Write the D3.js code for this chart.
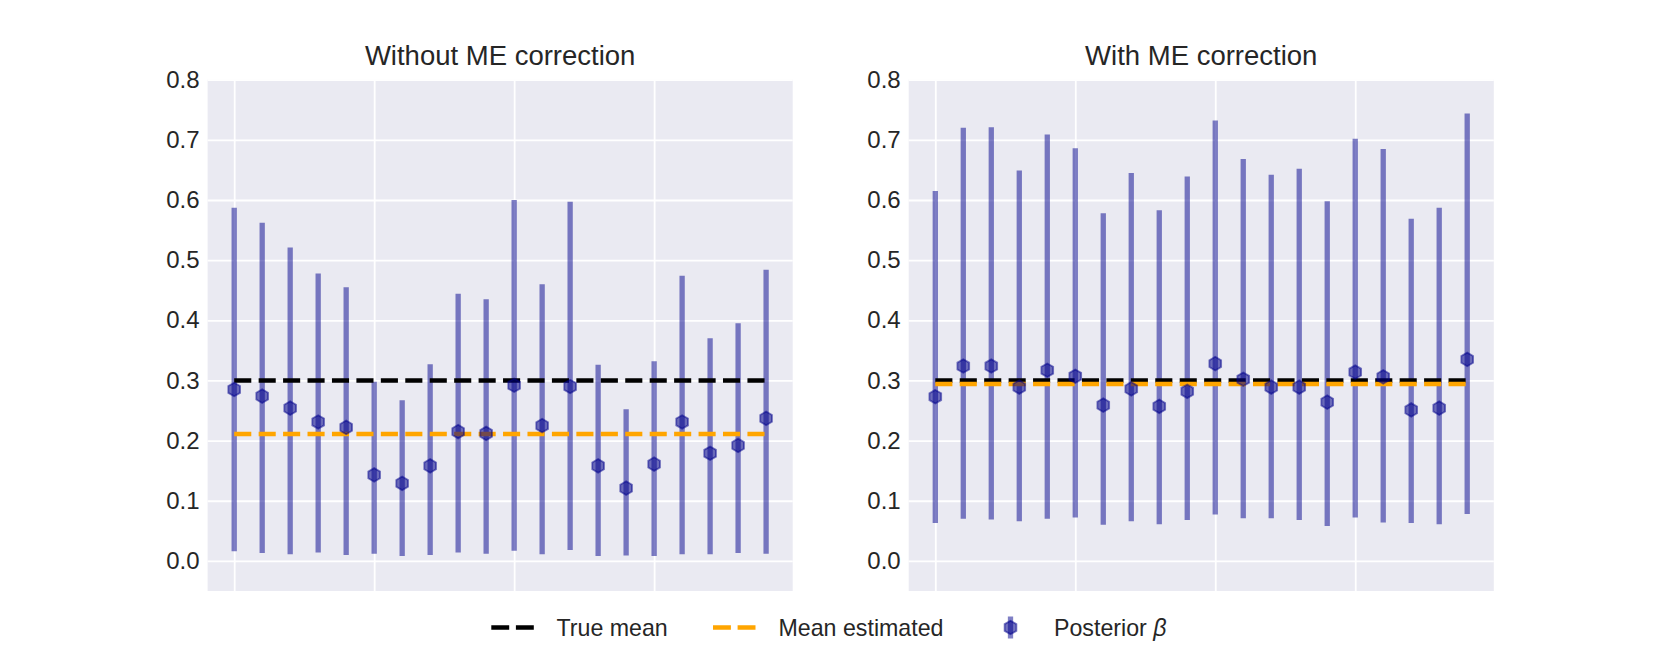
<!DOCTYPE html>
<html>
<head>
<meta charset="utf-8">
<script src="https://cdn.jsdelivr.net/npm/d3@7"></script>
<style>
  html, body { margin: 0; padding: 0; background: #ffffff; }
  svg { display: block; font-family: "Liberation Sans", Arial, sans-serif; }
</style>
</head>
<body>
<svg id="chart" width="1661" height="664"></svg>
<script>
// ---- data ----
const xIndex = d3.range(20);
const xTicks = [0, 5, 10, 15];
const yTicks = [0.0, 0.1, 0.2, 0.3, 0.4, 0.5, 0.6, 0.7, 0.8];

const leftMean = [0.285,0.274,0.254,0.231,0.222,0.143,0.129,0.158,0.215,0.212,0.292,0.225,0.290,0.158,0.121,0.161,0.231,0.179,0.192,0.237];
const leftLow  = [0.016,0.013,0.011,0.014,0.010,0.012,0.008,0.010,0.014,0.012,0.017,0.011,0.018,0.008,0.009,0.008,0.011,0.011,0.013,0.012];
const leftHigh = [0.587,0.562,0.521,0.478,0.455,0.298,0.267,0.327,0.444,0.435,0.600,0.460,0.597,0.326,0.252,0.332,0.474,0.370,0.395,0.484];

const rightMean = [0.273,0.324,0.324,0.289,0.317,0.307,0.259,0.286,0.257,0.282,0.328,0.302,0.289,0.289,0.264,0.314,0.306,0.251,0.254,0.335];
const rightLow  = [0.063,0.070,0.069,0.066,0.070,0.072,0.060,0.066,0.061,0.068,0.077,0.071,0.071,0.068,0.058,0.072,0.064,0.063,0.061,0.078];
const rightHigh = [0.615,0.720,0.721,0.649,0.709,0.686,0.578,0.645,0.583,0.639,0.732,0.668,0.642,0.652,0.598,0.702,0.685,0.569,0.587,0.744];

const trueMean = 0.3;
const leftEstMean = 0.211;
const rightEstMean = 0.294;

const titles = ["Without ME correction", "With ME correction"];
const legendLabels = ["True mean", "Mean estimated", "Posterior "];

// ---- layout ----
const svg = d3.select("#chart");
const plotTop = 79.7, plotBottom = 591;
const panels = [
  {x0: 207.6, x1: 792.7, mean: leftMean, low: leftLow, high: leftHigh, est: leftEstMean, title: titles[0]},
  {x0: 908.7, x1: 1493.8, mean: rightMean, low: rightLow, high: rightHigh, est: rightEstMean, title: titles[1]}
];
const y = d3.scaleLinear().domain([-0.05, 0.8]).range([plotBottom, plotTop]);
const textColor = "#262626";
const barColor = "#00008b";
const dashArr = "17.1 7.34";

function hexPath(r) {
  const pts = d3.range(6).map(i => {
    const a = -Math.PI / 2 + i * Math.PI / 3;
    return [r * Math.cos(a), r * Math.sin(a)];
  });
  return "M" + pts.map(p => p.join(",")).join("L") + "Z";
}

panels.forEach(p => {
  const x = d3.scaleLinear().domain([-0.95, 19.95]).range([p.x0, p.x1]);
  const g = svg.append("g");
  g.append("rect").attr("x", p.x0).attr("y", plotTop)
    .attr("width", p.x1 - p.x0).attr("height", plotBottom - plotTop).attr("fill", "#EAEAF2");

  // grid
  const gy = g.append("g").attr("transform", `translate(${p.x0},0)`)
    .call(d3.axisLeft(y).tickValues(yTicks).tickSize(-(p.x1 - p.x0)).tickFormat(""));
  gy.select(".domain").remove();
  gy.selectAll(".tick line").attr("stroke", "#ffffff").attr("stroke-width", 1.8);

  const gx = g.append("g").attr("transform", `translate(0,${plotBottom})`)
    .call(d3.axisBottom(x).tickValues(xTicks).tickSize(-(plotBottom - plotTop)).tickFormat(""));
  gx.select(".domain").remove();
  gx.selectAll(".tick line").attr("stroke", "#ffffff").attr("stroke-width", 1.8);

  // y tick labels
  const yl = g.append("g").attr("transform", `translate(${p.x0},0)`)
    .call(d3.axisLeft(y).tickValues(yTicks).tickSize(0).tickPadding(8).tickFormat(d3.format(".1f")));
  yl.select(".domain").remove();
  yl.selectAll("text").attr("fill", textColor).style("font-size", "24px")
    .style("font-family", "'Liberation Sans', Arial, sans-serif");

  // title
  g.append("text").attr("x", (p.x0 + p.x1) / 2).attr("y", 65)
    .attr("text-anchor", "middle").attr("fill", textColor)
    .style("font-size", "27.5px").text(p.title);

  // error bars
  g.selectAll(".eb").data(xIndex).enter().append("line")
    .attr("x1", d => x(d)).attr("x2", d => x(d))
    .attr("y1", d => y(p.low[d])).attr("y2", d => y(p.high[d]))
    .attr("stroke", barColor).attr("stroke-opacity", 0.5).attr("stroke-width", 5.3);

  // mean lines
  g.append("line").attr("x1", x(0)).attr("x2", x(19))
    .attr("y1", y(trueMean)).attr("y2", y(trueMean))
    .attr("stroke", "#000000").attr("stroke-width", 4.4).attr("stroke-dasharray", dashArr);
  g.append("line").attr("x1", x(0)).attr("x2", x(19))
    .attr("y1", y(p.est)).attr("y2", y(p.est))
    .attr("stroke", "#FFA500").attr("stroke-width", 4.4).attr("stroke-dasharray", dashArr);

  // markers
  g.selectAll(".mk").data(xIndex).enter().append("path")
    .attr("d", hexPath(6.8))
    .attr("transform", d => `translate(${x(d)},${y(p.mean[d])})`)
    .attr("fill", barColor).attr("fill-opacity", 0.55)
    .attr("stroke", barColor).attr("stroke-opacity", 0.5).attr("stroke-width", 1.8);
});

// ---- legend ----
const ly = 627.5;
const lg = svg.append("g");
lg.append("line").attr("x1", 491.3).attr("x2", 533.8).attr("y1", ly).attr("y2", ly)
  .attr("stroke", "#000").attr("stroke-width", 4.4).attr("stroke-dasharray", "17.9 6.7");
lg.append("text").attr("x", 556.5).attr("y", 635.7).attr("fill", textColor)
  .style("font-size", "23.2px").text(legendLabels[0]);
lg.append("line").attr("x1", 713).attr("x2", 755.5).attr("y1", ly).attr("y2", ly)
  .attr("stroke", "#FFA500").attr("stroke-width", 4.4).attr("stroke-dasharray", "17.9 6.7");
lg.append("text").attr("x", 778.5).attr("y", 635.7).attr("fill", textColor)
  .style("font-size", "23.2px").text(legendLabels[1]);
lg.append("line").attr("x1", 1010.5).attr("x2", 1010.5).attr("y1", ly - 11).attr("y2", ly + 11)
  .attr("stroke", barColor).attr("stroke-opacity", 0.5).attr("stroke-width", 5.3);
lg.append("path").attr("d", hexPath(6.8)).attr("transform", `translate(1010.5,${ly})`)
  .attr("fill", barColor).attr("fill-opacity", 0.55)
  .attr("stroke", barColor).attr("stroke-opacity", 0.5).attr("stroke-width", 1.8);
const pt = lg.append("text").attr("x", 1054).attr("y", 635.7).attr("fill", textColor)
  .style("font-size", "23.2px").text(legendLabels[2]);
pt.append("tspan").style("font-style", "italic").text("β");
</script>
</body>
</html>
